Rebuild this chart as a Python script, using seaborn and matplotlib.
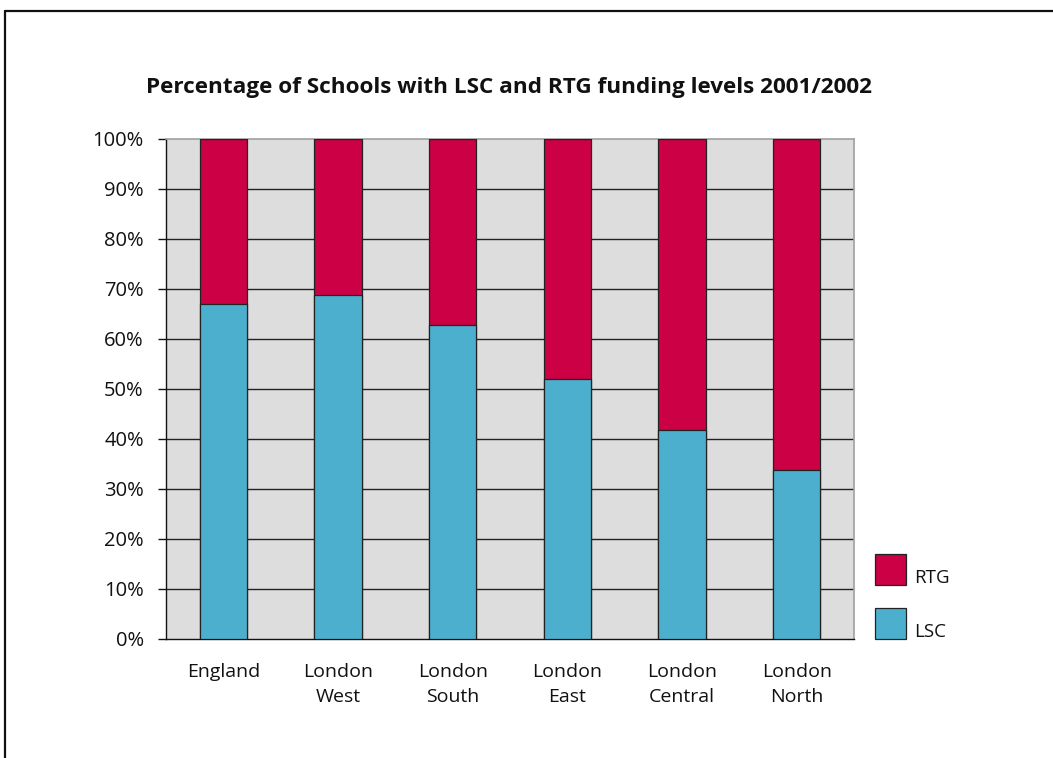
import matplotlib
matplotlib.use("Agg")
import matplotlib.pyplot as plt
from matplotlib.patches import Rectangle
from matplotlib.lines import Line2D
import seaborn as sns
import pandas as pd

# Funding-level shares per area, 2001/2002 (percent of schools)
regions = ["England", "London\nWest", "London\nSouth", "London\nEast", "London\nCentral", "London\nNorth"]
lsc = [67.1, 68.8, 62.8, 52.1, 41.9, 33.8]
rtg = [100 - v for v in lsc]
y_ticks = [0, 10, 20, 30, 40, 50, 60, 70, 80, 90, 100]
y_labels = [f"{t}%" for t in y_ticks]
title = "Percentage of Schools with LSC and RTG funding levels 2001/2002"

BLUE = "#4BAFCD"
RED = "#CC0044"
PLOT_BG = "#DDDDDD"

sns.set_theme(style="white")
plt.rcParams["font.family"] = ["Open Sans", "DejaVu Sans"]

df = pd.DataFrame({"region": regions, "LSC": lsc, "RTG": rtg})
df["total"] = df["LSC"] + df["RTG"]

fig = plt.figure(figsize=(10.53, 7.58), dpi=100)
ax = fig.add_axes([166 / 1053, 119 / 758, 688 / 1053, 500 / 758])
ax.set_facecolor(PLOT_BG)

# stacked bars: full stack in red, LSC share drawn over it in blue
sns.barplot(data=df, x="region", y="total", color=RED, width=0.41,
            edgecolor="#222222", linewidth=0.9, saturation=1, ax=ax, zorder=3)
sns.barplot(data=df, x="region", y="LSC", color=BLUE, width=0.41,
            edgecolor="#222222", linewidth=0.9, saturation=1, ax=ax, zorder=4)

ax.set_xlim(-0.5, len(regions) - 0.5)
ax.set_ylim(0, 100)
ax.set_yticks(y_ticks)
ax.set_yticklabels(y_labels, fontsize=14.5, color="#111111")
ax.set_xticks(range(len(regions)))
ax.set_xticklabels(regions, fontsize=14, color="#111111", linespacing=1.55)
ax.set_xlabel("")
ax.set_ylabel("")

# horizontal gridlines behind bars
for t in y_ticks[1:-1]:
    ax.axhline(t, color="#222222", lw=1.0, zorder=1)

# category boundary ticks on x, outward ticks on y
ax.set_xticks([i - 0.5 for i in range(len(regions) + 1)], minor=True)
ax.tick_params(axis="x", which="major", length=0, pad=17)
ax.tick_params(axis="x", which="minor", length=6, width=1, color="#111111", direction="out")
ax.tick_params(axis="y", which="major", length=6, width=1, color="#111111",
               direction="out", pad=10, left=True)

for side in ["left", "bottom"]:
    ax.spines[side].set_color("#111111")
    ax.spines[side].set_linewidth(1.0)
for side in ["top", "right"]:
    ax.spines[side].set_color("#A0A0A0")
    ax.spines[side].set_linewidth(1.2)

fig.text(509 / 1053, 1 - 87 / 758, title, ha="center", va="center",
         fontsize=16.2, fontweight="bold", color="#111111")

# legend on the right
W, H = 1053, 758
for (label, col, top) in [("RTG", RED, 554), ("LSC", BLUE, 608)]:
    fig.patches.append(Rectangle((875 / W, 1 - (top + 31) / H), 31 / W, 31 / H,
                                 transform=fig.transFigure, facecolor=col,
                                 edgecolor="#222222", linewidth=0.9))
    fig.text(914 / W, 1 - (top + 24) / H, label, ha="left", va="center",
             fontsize=13.5, color="#111111")

# outer frame (top and left edges)
fig.add_artist(Line2D([5 / W, 5 / W], [0, 1 - 11 / H], transform=fig.transFigure,
                      color="#111111", lw=1.6))
fig.add_artist(Line2D([5 / W, 1], [1 - 11 / H, 1 - 11 / H], transform=fig.transFigure,
                      color="#111111", lw=1.6))

fig.savefig("out.png", dpi=100)
